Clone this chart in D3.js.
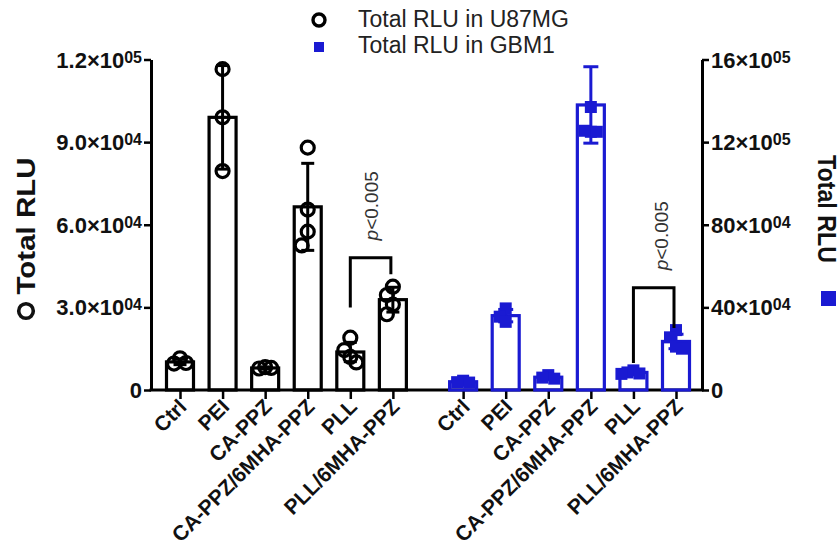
<!DOCTYPE html>
<html>
<head>
<meta charset="utf-8">
<script src="https://cdn.jsdelivr.net/npm/d3@7/dist/d3.min.js"></script>
<style>
  html, body { margin: 0; padding: 0; background: #fff; }
  svg { display: block; }
  text { font-family: "Liberation Sans", Arial, Helvetica, sans-serif; }
</style>
</head>
<body>
<svg id="chart" width="840" height="556"></svg>
<script>
// ---------- DATA ----------
const categories = ["Ctrl", "PEI", "CA-PPZ", "CA-PPZ/6MHA-PPZ", "PLL", "PLL/6MHA-PPZ"];

// U87MG (left axis)
const u87Means = [10200, 99000, 8000, 66500, 13800, 32800];
const u87SD    = [1000, 18800, 400, 15800, 3500, 4500];
const u87Points = [
  [11500, 9600, 9800],
  [116500, 99000, 79500],
  [8300, 7800, 8000],
  [88000, 65500, 57500, 52500],
  [19000, 14500, 12000, 10000],
  [37500, 34500, 31000, 27500]
];

// GBM1 (right axis)
const gbmMeans = [40000, 360000, 62000, 1380000, 85000, 235000];
const gbmSD    = [8000, 30000, 10000, 185000, 10000, 35000];
const gbmPoints = [
  [45000, 38000, 36000],
  [395000, 355000, 330000],
  [72000, 60000, 55000],
  [1370000, 1250000, 1255000, 1250000],
  [95000, 85000, 80000, 78000],
  [290000, 255000, 210000, 200000]
];

// Axis ticks
const leftTickValues   = [0, 30000, 60000, 90000, 120000];
const leftTickMantissa = ["0", "3.0×10", "6.0×10", "9.0×10", "1.2×10"];
const leftTickExp      = ["", "04", "04", "04", "05"];
const rightTickValues   = [0, 400000, 800000, 1200000, 1600000];
const rightTickMantissa = ["0", "40×10", "80×10", "12×10", "16×10"];
const rightTickExp      = ["", "04", "04", "05", "05"];

// Significance brackets: [fromIndex, toIndex, top, leftLegBottom, rightLegBottom]
const sigU87 = [4, 5, 48000, 30000, 42000];
const sigGbm = [4, 5, 495000, 131000, 300000];
const sigLabel = "0.005";

const legendLabels = ["Total RLU in U87MG", "Total RLU in GBM1"];
const axisTitle = "Total RLU";

// ---------- STYLE / LAYOUT ----------
const BLUE = "#1a1ad2";
const BLACK = "#000";
const svg = d3.select("#chart");
svg.append("rect").attr("width", 840).attr("height", 556).attr("fill", "#fff");

const y0 = 390, yTop = 59.5;
const xLeftAxis = 151, xRightAxis = 702;
const groupGap = 6.65;

const x = d3.scaleLinear().domain([0, 5 + groupGap]).range([180, 676]);
const yL = d3.scaleLinear().domain([0, 120000]).range([y0, yTop]);
const yR = d3.scaleLinear().domain([0, 1600000]).range([y0, yTop]);

const barW = 27;

// ---------- helpers ----------
function swarm(values, yScale, cx, thrY, off) {
  const placed = [];
  values.forEach(v => {
    const yy = yScale(v);
    const ks = [0, -1, 1, -2, 2, -3, 3];
    for (const k of ks) {
      const xx = cx + k * off;
      const ok = placed.every(p => !(Math.abs(p.y - yy) < thrY && Math.abs(p.x - xx) < off - 0.01));
      if (ok) { placed.push({x: xx, y: yy}); break; }
    }
  });
  return placed;
}

function drawGroup(offset, means, sds, points, yScale, color, shape) {
  const g = svg.append("g");
  const cx = i => x(i + offset);
  g.selectAll("rect.bar").data(means).join("rect")
    .attr("class", "bar")
    .attr("x", (d, i) => cx(i) - barW / 2)
    .attr("width", barW)
    .attr("y", d => yScale(d))
    .attr("height", d => y0 - yScale(d))
    .attr("fill", "none")
    .attr("stroke", color)
    .attr("stroke-width", 3.2);
  means.forEach((m, i) => {
    const c = cx(i);
    const capW = shape === "circle" ? 13 : 15;
    const hi = yScale(m + sds[i]), lo = yScale(Math.max(0, m - sds[i]));
    g.append("line").attr("x1", c).attr("x2", c).attr("y1", hi).attr("y2", lo)
      .attr("stroke", color).attr("stroke-width", 3);
    [hi, lo].forEach(yy => g.append("line").attr("x1", c - capW / 2).attr("x2", c + capW / 2)
      .attr("y1", yy).attr("y2", yy).attr("stroke", color).attr("stroke-width", 3));
  });
  points.forEach((vals, i) => {
    const c = cx(i);
    if (shape === "circle") {
      const pos = swarm(vals, yScale, c, 15, 6);
      g.selectAll(null).data(pos).join("circle")
        .attr("cx", d => d.x).attr("cy", d => d.y).attr("r", 6.5)
        .attr("fill", "none").attr("stroke", color).attr("stroke-width", 3.2);
    } else {
      const s = 12;
      const pos = swarm(vals, yScale, c, 12, 6);
      g.selectAll(null).data(pos).join("rect")
        .attr("x", d => d.x - s / 2).attr("y", d => d.y - s / 2)
        .attr("width", s).attr("height", s).attr("fill", color);
    }
  });
}

function drawSig(offset, sig, yScale, textX) {
  const [a, b, top, l1, l2] = sig;
  const xa = x(a + offset), xb = x(b + offset) - 2;
  const yt = yScale(top);
  svg.append("path")
    .attr("d", `M${xa},${yScale(l1)}V${yt}H${xb}V${yScale(l2)}`)
    .attr("fill", "none").attr("stroke", BLACK).attr("stroke-width", 3);
  const t = svg.append("text")
    .attr("transform", `translate(${textX},${yt - 52}) rotate(-90)`)
    .attr("text-anchor", "middle")
    .attr("font-size", 19).attr("fill", "#333");
  t.append("tspan").attr("font-style", "italic").text("p");
  t.append("tspan").text("<" + sigLabel);
}

// ---------- AXES ----------
const axL = svg.append("g").attr("transform", `translate(${xLeftAxis},0)`)
  .call(d3.axisLeft(yL).tickValues(leftTickValues).tickSize(7).tickSizeOuter(0).tickFormat(""));
const axR = svg.append("g").attr("transform", `translate(${xRightAxis},0)`)
  .call(d3.axisRight(yR).tickValues(rightTickValues).tickSize(7).tickSizeOuter(0).tickFormat(""));
[axL, axR].forEach(a => {
  a.select(".domain").attr("stroke", BLACK).attr("stroke-width", 3);
  a.selectAll(".tick line").attr("stroke", BLACK).attr("stroke-width", 2.5);
});

function tickLabels(values, mant, exp, scale, xx, anchor) {
  values.forEach((v, i) => {
    const t = svg.append("text")
      .attr("x", xx).attr("y", scale(v) + 8)
      .attr("text-anchor", anchor)
      .attr("font-size", 22).attr("font-weight", "bold").attr("fill", "#111");
    t.append("tspan").text(mant[i]);
    if (exp[i]) t.append("tspan").attr("font-size", 16).attr("dy", -5).text(exp[i]);
  });
}
tickLabels(leftTickValues, leftTickMantissa, leftTickExp, yL, 142, "end");
tickLabels(rightTickValues, rightTickMantissa, rightTickExp, yR, 711, "start");

// x axis
const xTicks = categories.map((c, i) => i).concat(categories.map((c, i) => i + groupGap));
const xLabels = categories.concat(categories);
const axX = svg.append("g").attr("transform", `translate(0,${y0})`)
  .call(d3.axisBottom(x).tickValues(xTicks).tickSize(9).tickSizeOuter(0).tickFormat(""));
axX.select(".domain").remove();
axX.selectAll(".tick line").attr("stroke", BLACK).attr("stroke-width", 2.5);
svg.append("line").attr("x1", xLeftAxis - 1.5).attr("x2", xRightAxis + 1.5)
  .attr("y1", y0).attr("y2", y0).attr("stroke", BLACK).attr("stroke-width", 3);

svg.append("g").selectAll("text").data(xTicks).join("text")
  .attr("transform", d => `translate(${x(d) + 8},${y0 + 18}) rotate(-45)`)
  .attr("text-anchor", "end")
  .attr("font-size", 21).attr("font-weight", "bold").attr("fill", "#111")
  .text((d, i) => xLabels[i]);

// ---------- MARKS ----------
drawGroup(0, u87Means, u87SD, u87Points, yL, BLACK, "circle");
drawGroup(groupGap, gbmMeans, gbmSD, gbmPoints, yR, BLUE, "square");
drawSig(0, sigU87, yL, 378);
drawSig(groupGap, sigGbm, yR, 668);

// ---------- AXIS TITLES ----------
svg.append("text")
  .attr("transform", "translate(35,226) rotate(-90)")
  .attr("text-anchor", "middle")
  .attr("font-size", 25).attr("font-weight", "bold").attr("fill", "#111")
  .attr("textLength", 137).attr("lengthAdjust", "spacingAndGlyphs")
  .text(axisTitle);
svg.append("circle").attr("cx", 26).attr("cy", 311).attr("r", 7.3)
  .attr("fill", "none").attr("stroke", "#111").attr("stroke-width", 3.6);

svg.append("text")
  .attr("transform", "translate(818,209) rotate(90)")
  .attr("text-anchor", "middle")
  .attr("font-size", 25).attr("font-weight", "bold").attr("fill", "#111")
  .attr("textLength", 108).attr("lengthAdjust", "spacingAndGlyphs")
  .text(axisTitle);
svg.append("rect").attr("x", 821).attr("y", 291).attr("width", 15).attr("height", 15).attr("fill", BLUE);

// ---------- LEGEND ----------
svg.append("circle").attr("cx", 319).attr("cy", 20).attr("r", 6)
  .attr("fill", "none").attr("stroke", BLACK).attr("stroke-width", 3.4);
svg.append("rect").attr("x", 314).attr("y", 42).attr("width", 10).attr("height", 10).attr("fill", BLUE);
svg.selectAll("text.leg").data(legendLabels).join("text")
  .attr("class", "leg")
  .attr("x", 358).attr("y", (d, i) => 27 + i * 26)
  .attr("font-size", 23).attr("fill", "#222")
  .text(d => d);
</script>
</body>
</html>
